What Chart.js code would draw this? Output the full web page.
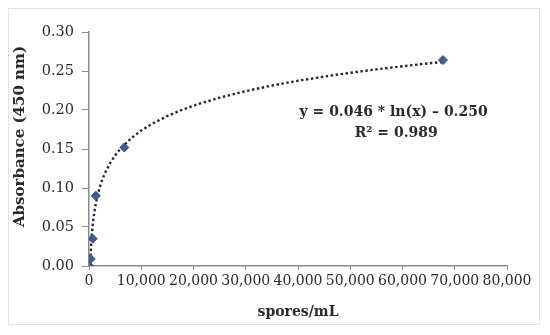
<!DOCTYPE html>
<html>
<head>
<meta charset="utf-8">
<script src="https://cdn.jsdelivr.net/npm/chart.js@4.4.1/dist/chart.umd.min.js"></script>
<style>
  html, body { margin: 0; padding: 0; background: #fff; }
  canvas { display: block; }
</style>
</head>
<body>
<canvas id="myChart" width="550" height="335"></canvas>
<script>
// measured points
const spores = [60, 325, 700, 1300, 6760, 67750];
const absorbance = [0.000, 0.009, 0.035, 0.090, 0.152, 0.264];

// log trendline y = a*ln(x) + b, as printed on the chart
const trendA = 0.046;
const trendB = -0.250;
const trendX = [229, 260, 300, 350, 400, 500, 600, 700, 850, 1000, 1250, 1500, 2000, 2500, 3000,
  4000, 5000, 6000, 8000, 10000, 12000, 15000, 18000, 21000, 25000, 30000, 35000, 40000,
  45000, 50000, 55000, 60000, 64000, 67750];

const xTicks = [0, 10000, 20000, 30000, 40000, 50000, 60000, 70000, 80000];
const yTicks = [0, 0.05, 0.10, 0.15, 0.20, 0.25, 0.30];

const eqText = 'y = 0.046 * ln(x) \u2013 0.250';
const r2Text = 'R\u00b2 = 0.989';

const axisGray = '#8a8a8a';
const textColor = '#2a2a2a';

const extras = {
  id: 'extras',
  beforeDraw(chart) {
    const c = chart.ctx;
    c.save();
    c.strokeStyle = '#e4e4e4';
    c.lineWidth = 1;
    c.strokeRect(8.5, 8.5, 531, 316);
    c.restore();
  },
  afterDraw(chart) {
    const c = chart.ctx;
    const x = chart.scales.x, y = chart.scales.y;
    c.save();
    c.fillStyle = textColor;
    c.textAlign = 'center';
    c.textBaseline = 'middle';
    c.font = 'bold 14px "DejaVu Serif"';
    c.fillText(eqText, x.getPixelForValue(58300), y.getPixelForValue(0.197));
    c.fillText(r2Text, x.getPixelForValue(58800), y.getPixelForValue(0.170));
    // y title
    c.translate(20, y.getPixelForValue(0.166));
    c.rotate(-Math.PI / 2);
    c.font = 'bold 15px "DejaVu Serif"';
    c.fillText('Absorbance (450 nm)', 0, 0);
    c.restore();
  }
};

const ctx = document.getElementById('myChart');
new Chart(ctx, {
  type: 'scatter',
  data: {
    datasets: [{
      data: spores.map((v, i) => ({ x: v, y: absorbance[i] })),
      pointStyle: 'rectRot',
      pointRadius: 4.5,
      pointBorderWidth: 1,
      pointBackgroundColor: '#3f5d91',
      pointBorderColor: '#34507f',
      showLine: false,
      order: 1
    }, {
      data: trendX.map(v => ({ x: v, y: trendA * Math.log(v) + trendB })),
      showLine: true,
      pointRadius: 0,
      borderColor: '#1c2640',
      borderWidth: 2.4,
      borderDash: [2.4, 2.6],
      borderCapStyle: 'butt',
      tension: 0,
      order: 2
    }]
  },
  options: {
    responsive: false,
    animation: false,
    devicePixelRatio: 1,
    layout: { padding: { left: 0, right: 43, top: 32, bottom: 0 } },
    plugins: { legend: { display: false }, tooltip: { enabled: false } },
    scales: {
      x: {
        type: 'linear',
        min: 0,
        max: 80000,
        afterBuildTicks: s => { s.ticks = xTicks.map(v => ({ value: v })); },
        afterFit: s => { s.height = 69; },
        grid: { drawOnChartArea: false, tickLength: 4, color: axisGray },
        border: { color: axisGray, width: 1.5 },
        ticks: {
          autoSkip: false,
          maxRotation: 0,
          padding: 3,
          color: textColor,
          font: { family: 'DejaVu Serif', size: 14 },
          callback: v => v.toLocaleString('en-US')
        },
        title: {
          display: true,
          text: 'spores/mL',
          color: textColor,
          font: { family: 'DejaVu Serif', size: 14, weight: 'bold' },
          padding: { top: 0, bottom: 14 }
        }
      },
      y: {
        min: 0,
        max: 0.3,
        afterBuildTicks: s => { s.ticks = yTicks.map(v => ({ value: v })); },
        afterFit: s => { s.width = 89; },
        grid: { drawOnChartArea: false, tickLength: 7, color: axisGray },
        border: { color: axisGray, width: 1.5 },
        ticks: {
          padding: 8,
          color: textColor,
          font: { family: 'DejaVu Serif', size: 14.5 },
          callback: v => v.toFixed(2)
        }
      }
    }
  },
  plugins: [extras]
});
</script>
</body>
</html>
